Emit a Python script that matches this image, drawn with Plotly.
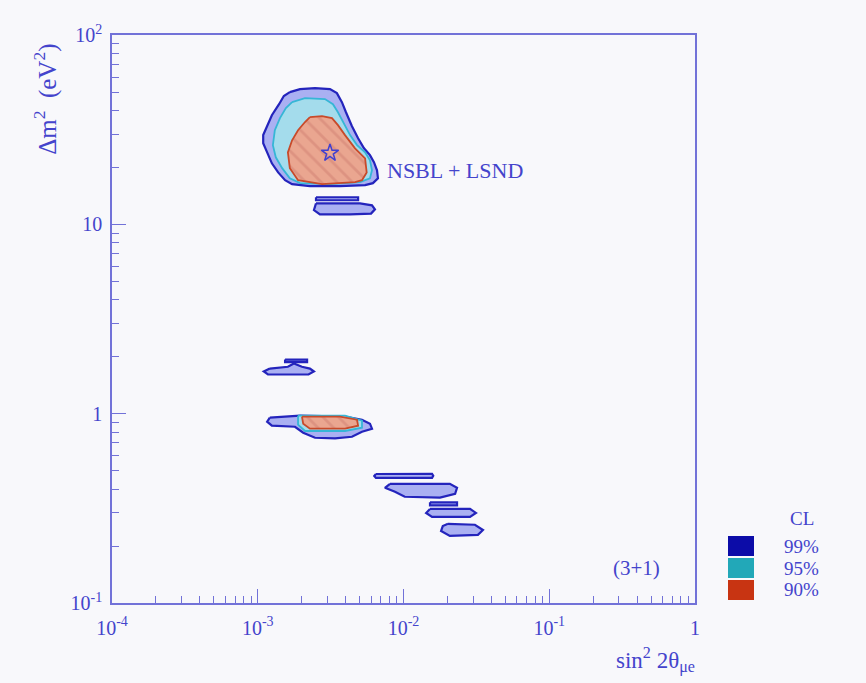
import plotly.graph_objects as go

# ---- allowed regions in the (sin^2 2theta_mue, delta m^2) plane, (3+1) fit ----
# 99% CL
CL99_MAIN_X = [1.66e-3, 1.95e-3, 2.47e-3, 3.13e-3, 3.49e-3, 3.78e-3, 4.03e-3, 4.43e-3, 4.88e-3,
               5.36e-3, 5.89e-3, 6.27e-3, 6.58e-3, 6.68e-3, 6.17e-3, 5.45e-3, 3.66e-3, 2.28e-3,
               1.72e-3, 1.54e-3, 1.38e-3, 1.25e-3, 1.16e-3, 1.09e-3, 1.09e-3, 1.16e-3, 1.25e-3,
               1.40e-3, 1.51e-3]
CL99_MAIN_Y = [49.9, 51.8, 52.4, 51.8, 49.3, 44.2, 39.1, 33.0, 28.5,
               25.2, 23.2, 21.3, 19.3, 17.5, 16.5, 16.1, 15.9, 15.9,
               16.3, 17.1, 18.8, 21.0, 24.0, 26.8, 29.6, 33.4, 37.7,
               43.1, 47.6]
CL99_STRIP_X = [2.51e-3, 4.88e-3, 4.88e-3, 2.51e-3]
CL99_STRIP_Y = [13.9, 13.9, 13.4, 13.4]
CL99_LOW_X = [2.51e-3, 5.03e-3, 6.08e-3, 6.37e-3, 5.99e-3, 4.30e-3, 2.67e-3, 2.43e-3]
CL99_LOW_Y = [12.9, 12.9, 12.6, 12.0, 11.4, 11.3, 11.3, 11.9]
CL99_A_LINE_X = [1.54e-3, 2.18e-3, 2.18e-3, 1.54e-3]
CL99_A_LINE_Y = [1.93, 1.93, 1.87, 1.87]
CL99_A_X = [1.21e-3, 1.61e-3, 1.77e-3, 2.01e-3, 2.28e-3, 2.43e-3, 2.23e-3, 1.175e-3, 1.10e-3]
CL99_A_Y = [1.73, 1.77, 1.84, 1.77, 1.73, 1.67, 1.61, 1.61, 1.67]
CL99_B_X = [1.21e-3, 1.95e-3, 3.97e-3, 5.19e-3, 5.89e-3, 6.08e-3, 5.19e-3, 4.43e-3, 3.39e-3,
            2.47e-3, 2.05e-3, 1.80e-3, 1.25e-3, 1.16e-3]
CL99_B_Y = [0.953, 0.976, 0.964, 0.929, 0.885, 0.833, 0.803, 0.755, 0.740,
            0.746, 0.793, 0.853, 0.864, 0.907]
CL99_C_X = [6.47e-3, 1.57e-2, 1.60e-2, 1.57e-2, 6.47e-3, 6.30e-3]
CL99_C_Y = [0.480, 0.481, 0.470, 0.458, 0.458, 0.469]
CL99_D_X = [8.08e-3, 2.08e-2, 2.33e-2, 2.26e-2, 1.78e-2, 1.02e-2, 8.74e-3, 7.46e-3]
CL99_D_Y = [0.426, 0.426, 0.406, 0.377, 0.360, 0.364, 0.387, 0.406]
CL99_E_X = [1.52e-2, 2.33e-2, 2.33e-2, 1.52e-2]
CL99_E_Y = [0.340, 0.340, 0.328, 0.328]
CL99_F_X = [1.52e-2, 2.86e-2, 3.14e-2, 2.86e-2, 1.57e-2, 1.43e-2]
CL99_F_Y = [0.314, 0.314, 0.299, 0.285, 0.285, 0.299]
CL99_G_X = [2.02e-2, 3.09e-2, 3.51e-2, 3.24e-2, 2.08e-2, 1.81e-2, 1.86e-2]
CL99_G_Y = [0.262, 0.259, 0.243, 0.229, 0.226, 0.240, 0.255]

# 95% CL
CL95_MAIN_X = [1.72e-3, 2.11e-3, 2.89e-3, 3.28e-3, 3.55e-3, 3.85e-3, 4.30e-3, 4.80e-3, 5.45e-3,
               5.89e-3, 6.08e-3, 5.89e-3, 5.03e-3, 3.13e-3, 1.95e-3, 1.66e-3, 1.47e-3, 1.33e-3,
               1.27e-3, 1.31e-3, 1.42e-3, 1.56e-3]
CL95_MAIN_Y = [44.2, 46.4, 45.9, 43.1, 39.1, 34.7, 29.6, 26.2, 24.0,
               21.8, 19.3, 17.5, 16.7, 16.3, 16.5, 17.5, 19.8, 22.6,
               26.2, 31.4, 36.4, 41.1]
CL95_B_X = [1.89e-3, 3.97e-3, 5.19e-3, 5.19e-3, 3.97e-3, 2.11e-3, 1.89e-3]
CL95_B_Y = [0.976, 0.976, 0.918, 0.843, 0.810, 0.810, 0.875]

# 90% CL
CL90_MAIN_X = [2.28e-3, 2.76e-3, 3.23e-3, 3.55e-3, 3.97e-3, 4.65e-3, 5.45e-3, 5.59e-3, 5.19e-3,
               4.65e-3, 2.76e-3, 1.89e-3, 1.66e-3, 1.61e-3, 1.72e-3, 1.89e-3, 2.11e-3]
CL90_MAIN_Y = [36.8, 37.3, 36.4, 33.4, 29.6, 25.2, 22.3, 18.8, 17.1,
               16.7, 16.3, 17.1, 19.8, 24.0, 27.8, 31.4, 34.7]
CL90_B_X = [2.01e-3, 3.66e-3, 4.80e-3, 4.88e-3, 3.97e-3, 2.28e-3, 2.05e-3]
CL90_B_Y = [0.964, 0.964, 0.929, 0.864, 0.833, 0.833, 0.885]

# best-fit point
BEST_X = [3.13e-3]
BEST_Y = [23.8]

# axis ticks
X_MAJOR = [1e-4, 1e-3, 1e-2, 1e-1, 1]
X_LABELS = ["10<sup>-4</sup>", "10<sup>-3</sup>", "10<sup>-2</sup>", "10<sup>-1</sup>", "1"]
Y_MAJOR = [0.1, 1, 10, 100]
Y_LABELS = ["10<sup>-1</sup>", "1", "10", "10<sup>2</sup>"]
MULTIPLES = [2, 3, 4, 5, 6, 7, 8, 9]
X_MINOR = [d * m for d in X_MAJOR[:-1] for m in MULTIPLES]
Y_MINOR = [d * m for d in Y_MAJOR[:-1] for m in MULTIPLES]

CL_LEVELS = ["99%", "95%", "90%"]
CL_SWATCH = ["#0c0ca8", "#22a8b8", "#c83412"]

INK = "#4444cc"
AXIS = "#7272d8"
BG = "#f8f8fb"
SERIF = "Liberation Serif, Times New Roman, serif"
NB = "\u00a0"

fig = go.Figure()


def region(xs, ys, fill, line, width=2.0, pattern=None):
    kw = {}
    if pattern is not None:
        kw["fillpattern"] = pattern
    fig.add_trace(go.Scatter(
        x=xs + xs[:1], y=ys + ys[:1], mode="lines", fill="toself",
        fillcolor=fill, line=dict(color=line, width=width),
        hoverinfo="skip", showlegend=False, **kw))


fill99, line99 = "#aab0f2", "#2424bc"
for xs, ys in [(CL99_MAIN_X, CL99_MAIN_Y), (CL99_STRIP_X, CL99_STRIP_Y),
               (CL99_LOW_X, CL99_LOW_Y), (CL99_A_LINE_X, CL99_A_LINE_Y),
               (CL99_A_X, CL99_A_Y), (CL99_B_X, CL99_B_Y), (CL99_C_X, CL99_C_Y),
               (CL99_D_X, CL99_D_Y), (CL99_E_X, CL99_E_Y), (CL99_F_X, CL99_F_Y),
               (CL99_G_X, CL99_G_Y)]:
    region(xs, ys, fill99, line99, 2.2)

fill95, line95 = "#a4dcec", "#36b6d6"
for xs, ys in [(CL95_MAIN_X, CL95_MAIN_Y), (CL95_B_X, CL95_B_Y)]:
    region(xs, ys, fill95, line95, 1.8)

hatch = dict(shape="\\", bgcolor="#eaa690", fgcolor="#cf7f72", size=11, solidity=0.25)
for xs, ys in [(CL90_MAIN_X, CL90_MAIN_Y), (CL90_B_X, CL90_B_Y)]:
    region(xs, ys, "#eaa690", "#c84a2a", 1.8, hatch)

fig.add_trace(go.Scatter(
    x=BEST_X, y=BEST_Y, mode="markers",
    marker=dict(symbol="star-open", size=13, color="#4040d0", line=dict(width=1.5)),
    hoverinfo="skip", showlegend=False))

axis_common = dict(
    type="log", showgrid=False, zeroline=False, showline=True, mirror=True,
    linecolor=AXIS, linewidth=1.5, ticks="inside", tickcolor=AXIS, tickwidth=1.2,
    ticklen=14, tickmode="array",
    tickfont=dict(family=SERIF, size=20, color=INK),
)

fig.update_layout(
    width=866, height=683,
    margin=dict(l=112, r=171, t=35, b=80),
    paper_bgcolor=BG, plot_bgcolor=BG,
    xaxis=dict(range=[-4, 0], tickvals=X_MAJOR, ticktext=X_LABELS, ticklabelstandoff=6,
               minor=dict(tickmode="array", tickvals=X_MINOR, ticks="inside",
                          ticklen=7, tickcolor=AXIS, tickwidth=1.2),
               **axis_common),
    yaxis=dict(range=[-1, 2], tickvals=Y_MAJOR, ticktext=Y_LABELS, ticklabelstandoff=4,
               minor=dict(tickmode="array", tickvals=Y_MINOR, ticks="inside",
                          ticklen=7, tickcolor=AXIS, tickwidth=1.2),
               **axis_common),
)

fig.add_annotation(x=0.468, y=0.762, xref="paper", yref="paper", text="NSBL + LSND",
                   showarrow=False, xanchor="left", yanchor="middle",
                   font=dict(family=SERIF, size=22, color=INK))
fig.add_annotation(x=0.9005, y=0.0616, xref="paper", yref="paper", text="(3+1)",
                   showarrow=False, xanchor="center", yanchor="middle",
                   font=dict(family=SERIF, size=21, color=INK))
fig.add_annotation(x=-0.113, y=0.886, xref="paper", yref="paper",
                   text="Δm<sup>2</sup>" + NB * 2 + "(eV<sup>2</sup>)", textangle=-90,
                   showarrow=False, xanchor="center", yanchor="middle",
                   font=dict(family=SERIF, size=25, color=INK))
fig.add_annotation(x=1.003, y=-0.100, xref="paper", yref="paper",
                   text="sin<sup>2</sup>" + NB + "2θ<sub>μe</sub>",
                   showarrow=False, xanchor="right", yanchor="middle",
                   font=dict(family=SERIF, size=23, color=INK))

# confidence-level key
KEY_FONT = dict(family=SERIF, size=19, color=INK)
fig.add_annotation(x=1.1835, y=0.1496, xref="paper", yref="paper", text="CL",
                   showarrow=False, xanchor="center", yanchor="middle", font=KEY_FONT)
key_top = [0.118, 0.0792, 0.0405]
key_bot = [0.0827, 0.044, 0.0053]
for lab, col, y1, y0 in zip(CL_LEVELS, CL_SWATCH, key_top, key_bot):
    fig.add_shape(type="rect", xref="paper", yref="paper", x0=1.0566, x1=1.1012,
                  y0=y0, y1=y1, fillcolor=col, line=dict(width=0))
    fig.add_annotation(x=1.1835, y=(y0 + y1) / 2, xref="paper", yref="paper", text=lab,
                       showarrow=False, xanchor="center", yanchor="middle", font=KEY_FONT)

fig.write_html("out.html")
